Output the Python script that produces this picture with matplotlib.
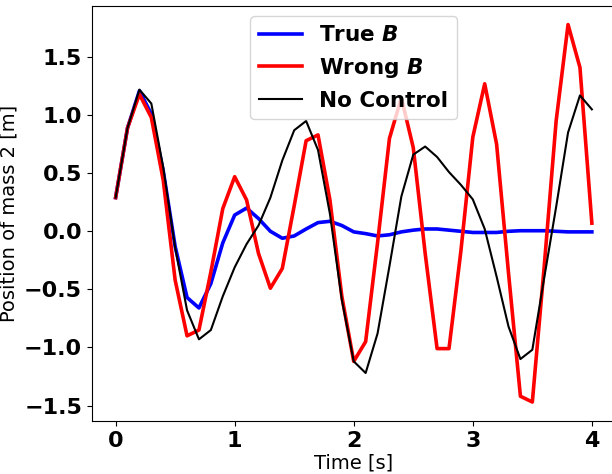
import numpy as np
from matplotlib import pyplot as plt

plt.rcParams['mathtext.fontset'] = 'custom'
plt.rcParams['mathtext.it'] = 'DejaVu Sans:italic:bold'

t = np.round(np.arange(0, 4.01, 0.1), 1)

true_b = [0.29, 0.89, 1.21, 1.01, 0.52, -0.13, -0.57, -0.66, -0.45, -0.10,
          0.14, 0.20, 0.11, 0.00, -0.06, -0.04, 0.02, 0.075, 0.086, 0.05,
          -0.005, -0.02, -0.04, -0.03, -0.005, 0.01, 0.02, 0.02, 0.01, 0.0,
          -0.01, -0.01, -0.01, 0.0, 0.005, 0.005, 0.005, 0.0, -0.005, -0.005,
          -0.005]

wrong_b = [0.29, 0.89, 1.18, 0.98, 0.44, -0.42, -0.90, -0.85, -0.35, 0.195,
           0.47, 0.27, -0.19, -0.49, -0.32, 0.22, 0.78, 0.83, 0.27, -0.56,
           -1.12, -0.95, -0.10, 0.80, 1.15, 0.72, -0.19, -1.01, -1.01, -0.17,
           0.81, 1.27, 0.75, -0.36, -1.42, -1.47, -0.30, 0.95, 1.78, 1.41,
           0.07]

no_control = [0.29, 0.89, 1.22, 1.10, 0.55, -0.14, -0.68, -0.93, -0.85, -0.56,
              -0.31, -0.11, 0.05, 0.29, 0.61, 0.87, 0.95, 0.70, 0.15, -0.59,
              -1.12, -1.22, -0.88, -0.30, 0.30, 0.66, 0.73, 0.64, 0.51, 0.40,
              0.275, 0.02, -0.39, -0.82, -1.10, -1.02, -0.40, 0.21, 0.85, 1.17,
              1.05]

fig = plt.figure(figsize=(6.12, 4.74), dpi=100)
ax = fig.add_axes([0.150, 0.112, 0.856, 0.876])
ax.plot(t, true_b, color='blue', lw=2.6, label=r'True $B$')
ax.plot(t, wrong_b, color='red', lw=2.6, label=r'Wrong $B$')
ax.plot(t, no_control, color='black', lw=1.5, label='No Control')

ax.set_xlabel('Time [s]', fontsize=14, labelpad=2)
ax.set_ylabel('Position of mass 2 [m]', fontsize=14)
ax.set_xticks([0, 1, 2, 3, 4])
ax.set_yticks([-1.5, -1.0, -0.5, 0.0, 0.5, 1.0, 1.5])
for lab in ax.get_xticklabels() + ax.get_yticklabels():
    lab.set_fontsize(16)
    lab.set_fontweight('bold')
ax.legend(loc='upper center', prop={'weight': 'bold', 'size': 15.5})

plt.savefig('out.png')
